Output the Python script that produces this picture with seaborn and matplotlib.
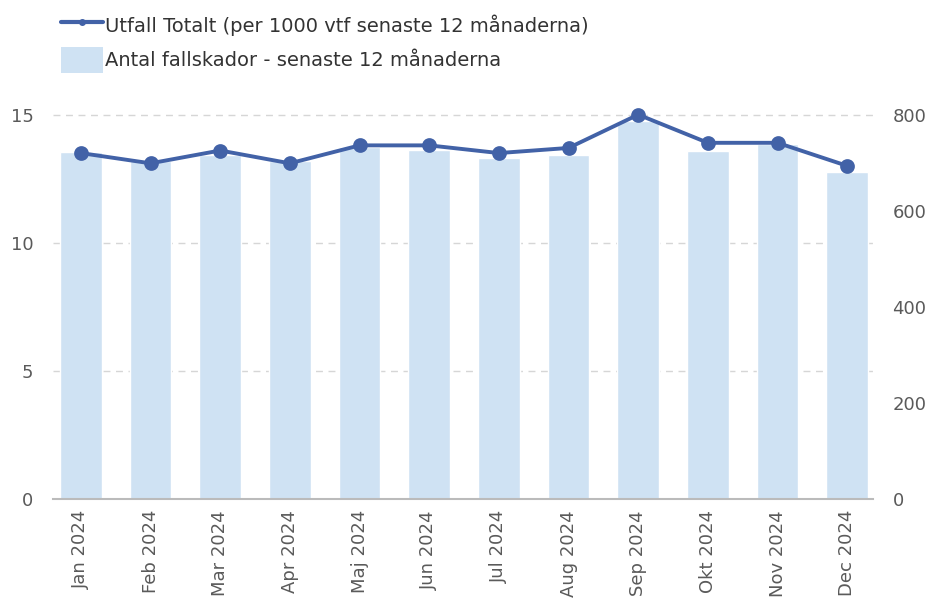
import matplotlib
matplotlib.use("Agg")
import matplotlib.pyplot as plt
import seaborn as sns
import numpy as np
import pandas as pd
from matplotlib.lines import Line2D
from matplotlib.patches import Patch

months = ["Jan 2024", "Feb 2024", "Mar 2024", "Apr 2024", "Maj 2024", "Jun 2024",
          "Jul 2024", "Aug 2024", "Sep 2024", "Okt 2024", "Nov 2024", "Dec 2024"]
rate = [13.5, 13.1, 13.6, 13.1, 13.8, 13.8, 13.5, 13.7, 15.0, 13.9, 13.9, 13.0]
falls = [722, 703, 717, 703, 733, 727, 710, 715, 786, 724, 738, 681]
left_ticks = [0, 5, 10, 15]
right_ticks = [0, 200, 400, 600, 800]
line_label = "Utfall Totalt (per 1000 vtf senaste 12 månaderna)"
bar_label = "Antal fallskador - senaste 12 månaderna"

LINE_C = "#4262a7"
BAR_C = "#cfe2f3"
TXT_C = "#5a5a5a"

sns.set_theme(style="white")
plt.rcParams["font.family"] = ["DejaVu Sans"]

df = pd.DataFrame({"month": months, "rate": rate, "falls": falls})

fig = plt.figure(figsize=(9.28, 6.11), dpi=100)
ax = fig.add_axes([53 / 928, 1 - 499 / 611, 820 / 928, (499 - 89) / 611])
# bars on primary axis (drawn behind), ticks on right
sns.barplot(data=df, x="month", y="falls", ax=ax, color=BAR_C, width=0.6,
            saturation=1, zorder=2)
ax2 = ax.twinx()
sns.pointplot(data=df, x="month", y="rate", ax=ax2, color=LINE_C,
              markersize=8.5, linewidth=2.8, zorder=5)

ymax_l = 16.0
scale = 800 / 15
ax2.set_ylim(0, ymax_l)
ax.set_ylim(0, ymax_l * scale)
ax.set_xlim(-0.4, 11.37)
ax2.set_xlim(-0.4, 11.37)

# left axis (rate) ticks on left side
ax2.yaxis.tick_left()
ax2.yaxis.set_label_position("left")
ax2.set_yticks(left_ticks)
ax2.set_yticklabels([str(t) for t in left_ticks])
# right axis (falls) ticks on right side
ax.yaxis.tick_right()
ax.set_yticks(right_ticks)
ax.set_yticklabels([str(t) for t in right_ticks])

# gridlines behind bars at left-axis tick positions
ax.grid(False)
ax2.grid(False)
for t in left_ticks[1:]:
    ax.axhline(t * scale, color="#d6d6d6", linestyle=(0, (5, 4)), linewidth=1, zorder=0)

for a in (ax, ax2):
    a.set_xlabel("")
    a.set_ylabel("")
    for s in ("top", "left", "right"):
        a.spines[s].set_visible(False)
    a.tick_params(axis="both", which="both", length=0, labelsize=13, colors=TXT_C)
ax2.spines["bottom"].set_visible(False)
ax.spines["bottom"].set_color("#bbbbbb")
ax.spines["bottom"].set_linewidth(1.5)
ax2.patch.set_visible(False)
ax.tick_params(axis="x", rotation=90, labelsize=13, pad=8)
ax2.tick_params(axis="x", labelbottom=False)
ax.tick_params(axis="y", pad=14)
ax2.tick_params(axis="y", pad=14)

handles = [Line2D([0], [0], color=LINE_C, lw=3, marker="o", markersize=4),
           Patch(facecolor=BAR_C, edgecolor="none")]
fig.legend(handles, [line_label, bar_label], loc="upper left",
           bbox_to_anchor=(48 / 928, 1.0), frameon=False, fontsize=14,
           handlelength=2.2, handleheight=1.7, handletextpad=0.1,
           labelspacing=0.4, labelcolor="#333333", borderaxespad=0.25)

fig.savefig("out.png", dpi=100)
